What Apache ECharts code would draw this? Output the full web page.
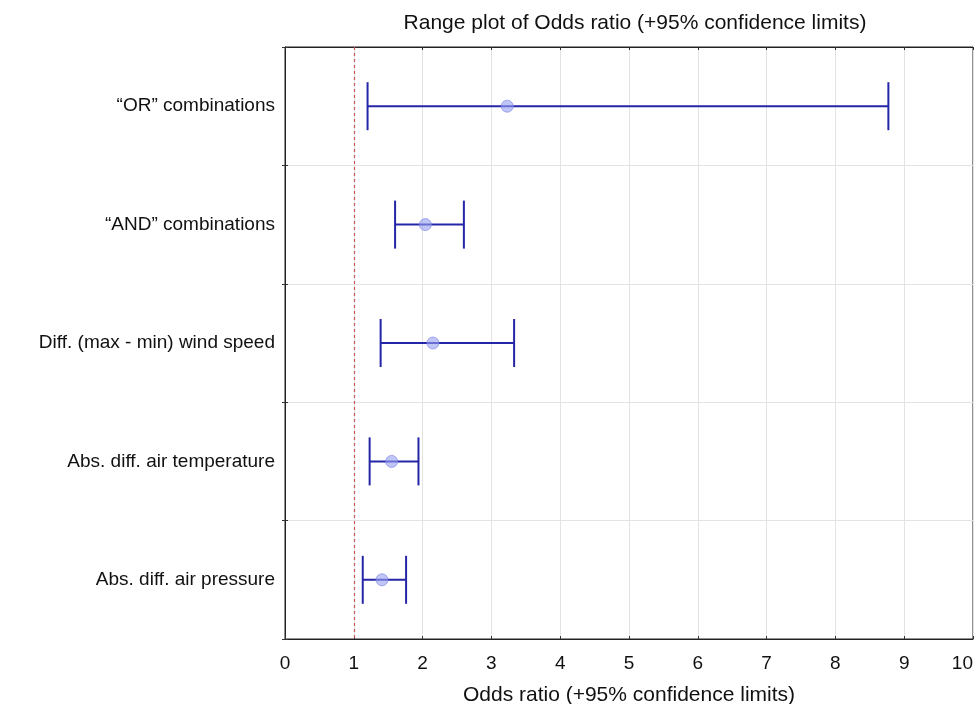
<!DOCTYPE html>
<html>
<head>
<meta charset="utf-8">
<script src="https://cdn.jsdelivr.net/npm/echarts@6/dist/echarts.min.js"></script>
<style>html,body{margin:0;padding:0;background:#fff}#c{width:977px;height:704px}</style>
</head>
<body>
<div id="c"></div>
<script>
const categories = ['\u201cOR\u201d combinations', '\u201cAND\u201d combinations', 'Diff. (max - min) wind speed', 'Abs. diff. air temperature', 'Abs. diff. air pressure'];
const lowerCL = [1.20, 1.60, 1.39, 1.23, 1.13];
const oddsRatio = [3.23, 2.04, 2.15, 1.55, 1.41];
const upperCL = [8.77, 2.60, 3.33, 1.94, 1.76];
const referenceLine = 1;
const xTicks = [0, 1, 2, 3, 4, 5, 6, 7, 8, 9, 10];

const FONT = '"Liberation Sans", Arial, Helvetica, sans-serif';
const chart = echarts.init(document.getElementById('c'), null, {renderer: 'canvas'});

const errData = categories.map((c, i) => [i, lowerCL[i], upperCL[i]]);

const option = {
  animation: false,
  backgroundColor: '#fff',
  title: {
    text: 'Range plot of Odds ratio (+95% confidence limits)',
    left: 630, top: 8, textAlign: 'center',
    textStyle: {fontFamily: FONT, fontSize: 21, fontWeight: 'normal', color: '#111'}
  },
  grid: {left: 285, right: 4, top: 47, bottom: 65, show: true, borderColor: '#222', borderWidth: 1, outerBoundsMode: 'none', containLabel: false},
  xAxis: [{
    type: 'value', min: xTicks[0], max: xTicks[xTicks.length - 1], interval: 1,
    name: 'Odds ratio (+95% confidence limits)', nameLocation: 'middle', nameGap: 46,
    nameTextStyle: {fontFamily: FONT, fontSize: 21, color: '#111'},
    axisLine: {show: true, lineStyle: {color: '#222'}},
    axisTick: {show: true, inside: true, length: 3, lineStyle: {color: '#333'}},
    axisLabel: {fontFamily: FONT, fontSize: 19, color: '#111', margin: 15, alignMaxLabel: 'right'},
    splitLine: {show: true, lineStyle: {color: '#e3e3e3'}}
  }, {
    type: 'value', position: 'top', min: 0, max: 10, interval: 1,
    axisLine: {show: true, lineStyle: {color: '#222'}},
    axisTick: {show: true, inside: true, length: 3, lineStyle: {color: '#333'}},
    axisLabel: {show: false}, splitLine: {show: false}
  }],
  yAxis: [{
    type: 'category', data: categories, inverse: true,
    axisLine: {show: true, lineStyle: {color: '#222'}},
    axisTick: {show: true, inside: true, length: 3, lineStyle: {color: '#333'}},
    axisLabel: {fontFamily: FONT, fontSize: 19, color: '#111', margin: 10},
    splitLine: {show: true, lineStyle: {color: '#e3e3e3'}}
  }, {
    type: 'category', data: categories, inverse: true, position: 'right',
    axisLine: {show: false},
    axisTick: {show: true, inside: true, length: 3, lineStyle: {color: '#333'}},
    axisLabel: {show: false}, splitLine: {show: false}
  }],
  series: [{
    type: 'custom',
    xAxisIndex: 0, yAxisIndex: 0,
    data: errData,
    encode: {y: 0, x: [1, 2]},
    renderItem: function (params, api) {
      const yi = api.value(0);
      const lo = api.coord([api.value(1), yi]);
      const hi = api.coord([api.value(2), yi]);
      const h = 24;
      const style = {stroke: '#2525a8', lineWidth: 2};
      return {
        type: 'group',
        children: [
          {type: 'line', shape: {x1: lo[0], y1: lo[1], x2: hi[0], y2: hi[1]}, style: style},
          {type: 'line', shape: {x1: lo[0], y1: lo[1] - h, x2: lo[0], y2: lo[1] + h}, style: style},
          {type: 'line', shape: {x1: hi[0], y1: hi[1] - h, x2: hi[0], y2: hi[1] + h}, style: style}
        ]
      };
    }
  }, {
    type: 'scatter',
    xAxisIndex: 0, yAxisIndex: 0,
    data: oddsRatio.map((v, i) => [v, i]),
    symbol: 'circle', symbolSize: 12,
    itemStyle: {color: 'rgba(150,160,240,0.75)', borderColor: 'rgba(120,130,230,0.8)', borderWidth: 1},
    z: 5,
    markLine: {
      silent: true, symbol: 'none', label: {show: false},
      lineStyle: {color: '#c8555a', type: [3, 3], width: 1.2},
      data: [{xAxis: referenceLine}]
    }
  }]
};
chart.setOption(option);
</script>
</body>
</html>
